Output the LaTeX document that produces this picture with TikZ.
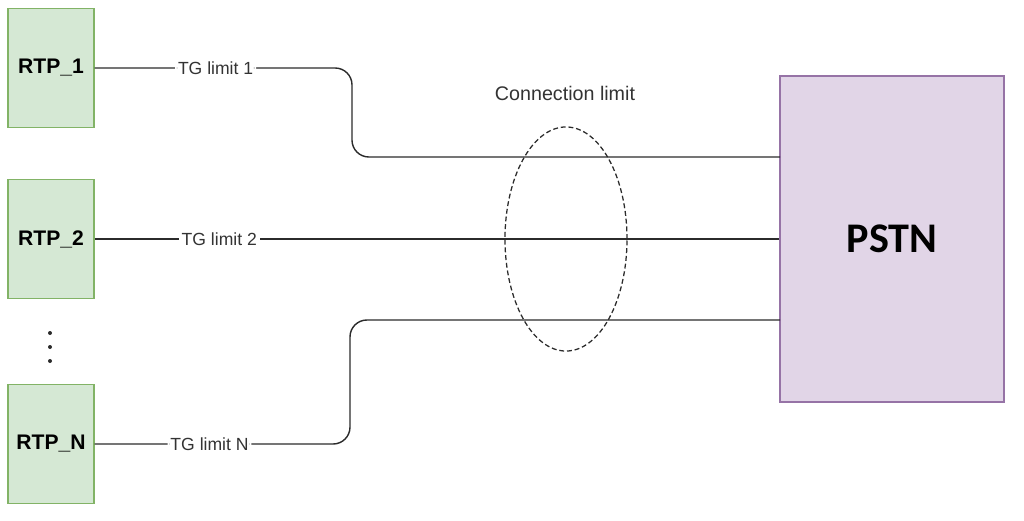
\documentclass[tikz,border=0pt]{standalone}
\usepackage{fontspec}
\setmainfont{Liberation Sans}
\newfontfamily\pstnfont{Carlito}
\usetikzlibrary{positioning,shapes.geometric}

\definecolor{rtpfill}{HTML}{D5E8D4}
\definecolor{rtpdraw}{HTML}{82B366}
\definecolor{pstnfill}{HTML}{E1D5E7}
\definecolor{pstndraw}{HTML}{9673A6}
\definecolor{linkcol}{HTML}{2B2B2B}

\begin{document}
\begin{tikzpicture}[
  x=0.025cm, y=-0.025cm,
  rtp/.style={rectangle, draw=rtpdraw, fill=rtpfill, line width=0.9pt, minimum width=2.15cm, minimum height=2.975cm, inner sep=0pt, font=\bfseries\fontsize{15}{18}\selectfont},
  pstn/.style={rectangle, draw=pstndraw, fill=pstnfill, line width=0.9pt, minimum width=5.6cm, minimum height=8.15cm, inner sep=0pt, font=\pstnfont\bfseries\fontsize{30}{34}\selectfont},
  link/.style={draw=linkcol, line width=1pt},
  lbl/.style={fill=white, inner sep=2pt, text=black!80, font=\fontsize{12.5}{15}\selectfont},
  connlim/.style={ellipse, draw=linkcol, dashed, dash pattern=on 3.5pt off 2pt, line width=0.9pt, minimum width=3.05cm, minimum height=5.6cm, inner sep=0pt}
]
\useasboundingbox (0,0) rectangle (1024,520);
\node[rtp] (r1) at (51,68) {RTP\_1};
\node[rtp] (r2) at (51,239) {RTP\_2};
\node[rtp] (rn) at (51,444) {RTP\_N};
\node[pstn] (pstn) at (892,239) {PSTN};
\node[connlim] (conn) at (566,239) {};
\node[font=\fontsize{14}{17}\selectfont, text=black!80] (connlbl) at (565,93) {Connection limit};
% dots between RTP_2 and RTP_N
\foreach \yy in {333,347,361}
  \fill[linkcol] (50,\yy) circle (2);
% trunk groups to PSTN
\coordinate (p1) at (780,157);
\coordinate (pn) at (780,320);
\draw[link, rounded corners=12] (r1.east) -- node[lbl, pos=0.47] {TG limit 1} (352,68) |- (p1);
\draw[link] (r2.east) -- node[lbl, pos=0.182] {TG limit 2} (pstn.west);
\draw[link, rounded corners=12] (rn.east) -- node[lbl, pos=0.45] {TG limit N} (350,444) |- (pn);
\end{tikzpicture}
\end{document}
